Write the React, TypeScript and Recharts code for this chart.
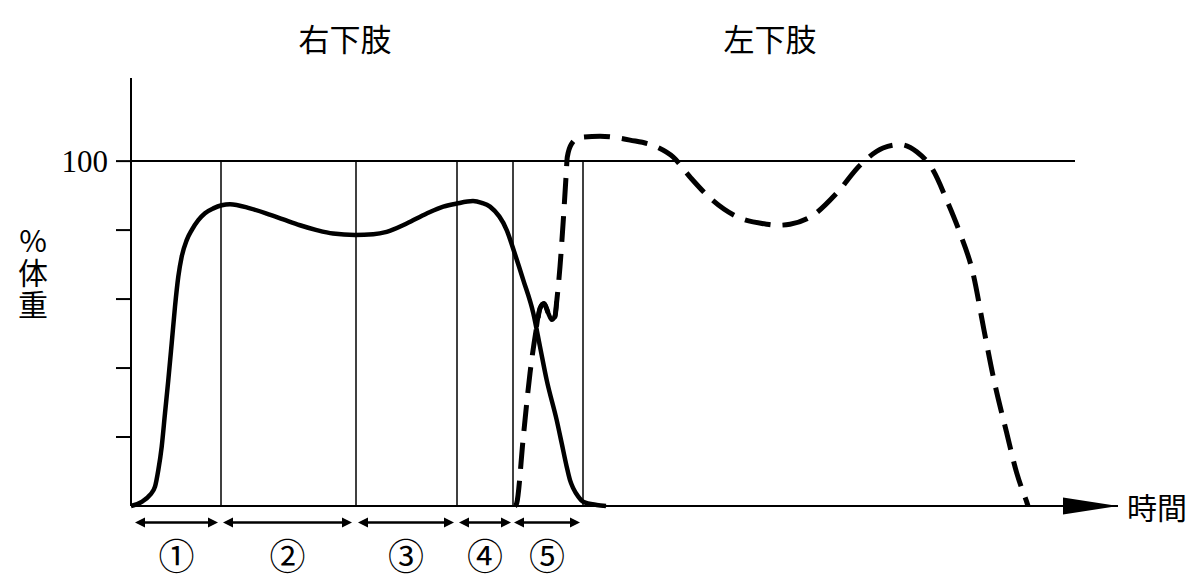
import React from "react";
import { LineChart, Line, XAxis, YAxis, ReferenceLine, ReferenceDot } from "recharts";

// time (arbitrary units) and load (% body weight)
const rightTime = [0, 10.7, 19, 24, 27.3, 30.7, 34, 37.3, 40.7, 44, 47.3, 50.7, 55.7, 60.7, 67.3, 74, 82.3, 90.7, 99, 119, 135.7, 152.3, 169, 185.7, 202, 224, 242.3, 255.7, 275.7, 295.7, 312.3, 325.7, 342, 350.7, 359, 375.7, 384, 392.3, 402.3, 409, 415.7, 425.7, 430.7, 435.7, 439, 442.3, 447.3, 452.3, 465.7, 475];
const rightLoad = [0, 1.2, 3.2, 5.6, 10.4, 17.2, 26.9, 36.5, 47.2, 57.8, 66.5, 72.3, 77.1, 80.0, 82.9, 84.9, 86.3, 87.2, 87.5, 86.3, 84.8, 83.1, 81.4, 80.0, 79.0, 78.6, 78.8, 79.5, 81.9, 84.8, 86.8, 87.7, 88.4, 87.9, 86.8, 80.0, 73.0, 65.5, 55.9, 46.2, 36.5, 24.9, 18.2, 11.4, 7.5, 5.1, 2.7, 1.2, 0.3, 0];

const leftTime = [384, 385.7, 392.3, 399, 405.7, 409, 413, 417.3, 420.7, 424, 425.7, 429, 432.3, 435, 436.3, 440.7, 449, 469, 499, 525.7, 542, 559, 579, 605.7, 635.7, 647, 659, 682, 705.7, 729, 752, 769, 785.7, 802, 815.7, 829, 842, 853, 862.3, 875.7, 885.7, 892, 895.7, 897];
const leftLoad = [0, 0.8, 20, 38.5, 52, 57.3, 58.7, 55.9, 54.0, 55.0, 59.3, 69.4, 82.9, 95.4, 101.2, 105.1, 106.9, 107.2, 106.1, 104.1, 101.2, 95.4, 89.3, 83.9, 81.7, 81.4, 81.7, 84.3, 90.7, 98.8, 103.8, 104.8, 102.7, 97.4, 88.7, 79.1, 67.5, 51.0, 37.4, 21.2, 9.6, 4.1, 1.2, 0];

// heel-strike transient of the left limb (drawn solid)
const impactRange = [405, 426];

const phaseBounds = [90, 225, 326, 382, 452];
const phaseStarts = [4, 92, 227, 328, 383];
const phaseEnds = [87, 221, 323, 380, 449];
const phaseLabels = ["①", "②", "③", "④", "⑤"];

const yTicks = [20, 40, 60, 80, 100];
const timeMax = 987;
const refLineEnd = 944;

const rightData = rightTime.map((t, i) => ({ t, v: rightLoad[i] }));
const leftData = leftTime.map((t, i) => ({ t, v: leftLoad[i] }));
const impactData = leftData.filter((d) => d.t >= impactRange[0] && d.t <= impactRange[1]);

const JP = '"Noto Sans CJK JP", sans-serif';

function YTick({ x, y, payload }: any) {
  if (payload.value !== 100) return <g />;
  return (
    <text x={x} y={y} textAnchor="end" dominantBaseline="central" fontSize={31} fontFamily='"Liberation Serif", serif' fill="#000">
      100
    </text>
  );
}

function PhaseArrow({ x1, y1, x2, label }: any) {
  const y = y1;
  return (
    <g>
      <line x1={x1 + 5} x2={x2 - 5} y1={y} y2={y} stroke="#000" strokeWidth={2.5} />
      <polygon points={`${x1},${y} ${x1 + 10},${y - 5} ${x1 + 10},${y + 5}`} fill="#000" />
      <polygon points={`${x2},${y} ${x2 - 10},${y - 5} ${x2 - 10},${y + 5}`} fill="#000" />
      <text x={(x1 + x2) / 2} y={y + 31} textAnchor="middle" dominantBaseline="central" fontSize={36} fontFamily={JP} fill="#000">
        {label}
      </text>
    </g>
  );
}

function AxisArrow({ cx, cy }: any) {
  return <polygon points={`${cx - 55},${cy - 8.5} ${cx},${cy} ${cx - 55},${cy + 8.5}`} fill="#000" />;
}

export default function App() {
  return (
    <div style={{ position: "absolute", left: 0, top: 0, width: 1200, height: 587, background: "#fff", fontFamily: JP }}>
      <LineChart
        width={1200}
        height={587}
        margin={{ top: 78, right: 82, bottom: 51, left: 71 }}
        style={{ overflow: "visible" }}
      >
        <XAxis
          type="number"
          dataKey="t"
          domain={[0, timeMax]}
          height={30}
          tick={false}
          tickLine={false}
          axisLine={{ stroke: "#000", strokeWidth: 2 }}
        />
        <YAxis
          type="number"
          domain={[0, 124.1]}
          ticks={yTicks}
          width={60}
          tickSize={15}
          tickMargin={8}
          tick={<YTick />}
          tickLine={{ stroke: "#000", strokeWidth: 2 }}
          axisLine={{ stroke: "#000", strokeWidth: 2 }}
        />
        <ReferenceLine
          segment={[{ x: 0, y: 100 }, { x: refLineEnd, y: 100 }]}
          stroke="#000"
          strokeWidth={2}
          ifOverflow="visible"
        />
        {phaseBounds.map((t) => (
          <ReferenceLine
            key={`b-${t}`}
            segment={[{ x: t, y: 0 }, { x: t, y: 100 }]}
            stroke="#000"
            strokeWidth={1.5}
            ifOverflow="visible"
          />
        ))}
        {phaseLabels.map((lab, i) => (
          <ReferenceLine
            key={`p-${i}`}
            segment={[{ x: phaseStarts[i], y: -4.8 }, { x: phaseEnds[i], y: -4.8 }]}
            ifOverflow="visible"
            shape={(p: any) => <PhaseArrow {...p} label={lab} />}
          />
        ))}
        <ReferenceDot x={timeMax} y={0} ifOverflow="visible" shape={<AxisArrow />} />
        <Line
          data={rightData}
          dataKey="v"
          type="monotone"
          stroke="#000"
          strokeWidth={4.5}
          dot={false}
          isAnimationActive={false}
        />
        <Line
          data={leftData}
          dataKey="v"
          type="monotone"
          stroke="#000"
          strokeWidth={5}
          strokeDasharray="26 12"
          dot={false}
          isAnimationActive={false}
        />
        <Line
          data={impactData}
          dataKey="v"
          type="monotone"
          stroke="#000"
          strokeWidth={4.5}
          dot={false}
          isAnimationActive={false}
        />
      </LineChart>
      <div style={{ position: "absolute", left: 345, top: 37, transform: "translate(-50%, -50%)", fontSize: 31, whiteSpace: "nowrap" }}>
        右下肢
      </div>
      <div style={{ position: "absolute", left: 770, top: 37, transform: "translate(-50%, -50%)", fontSize: 31, whiteSpace: "nowrap" }}>
        左下肢
      </div>
      <div style={{ position: "absolute", left: 1127, top: 506, transform: "translateY(-50%)", fontSize: 30, whiteSpace: "nowrap" }}>
        時間
      </div>
      <div
        style={{
          position: "absolute",
          left: 17,
          top: 226,
          fontSize: 30,
          writingMode: "vertical-rl",
          textOrientation: "upright",
          letterSpacing: 2,
          lineHeight: "32px",
        }}
      >
        %体重
      </div>
    </div>
  );
}
